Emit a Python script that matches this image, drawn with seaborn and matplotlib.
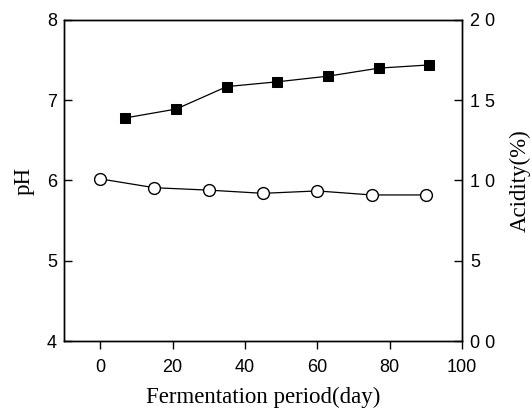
import matplotlib
matplotlib.use("Agg")
import matplotlib.pyplot as plt
import seaborn as sns
import pandas as pd

# data
days_ph = [0, 15, 30, 45, 60, 75, 90]
ph = [6.02, 5.91, 5.88, 5.84, 5.87, 5.82, 5.82]

days_acid = [7, 21, 35, 49, 63, 77, 91]
acidity = [1.39, 1.445, 1.585, 1.615, 1.65, 1.70, 1.72]

x_ticks = [0, 20, 40, 60, 80, 100]
ph_ticks = [4, 5, 6, 7, 8]
acid_ticks = [0.0, 0.5, 1.0, 1.5, 2.0]
acid_labels = ["0 0", "5", "1 0", "1 5", "2 0"]

sns.set_style("ticks")
plt.rcParams["font.family"] = ["Liberation Sans", "DejaVu Sans"]

df_ph = pd.DataFrame({"day": days_ph, "pH": ph})
df_acid = pd.DataFrame({"day": days_acid, "acidity": acidity})

fig = plt.figure(figsize=(5.31, 4.12), dpi=100)
ax = fig.add_axes([0.1205, 0.1723, 0.7495, 0.7792])

sns.lineplot(data=df_ph, x="day", y="pH", ax=ax, color="black", linewidth=0.9,
             marker="o", markersize=8.5, markerfacecolor="white",
             markeredgecolor="black", markeredgewidth=1.0)
ax.set_xlim(-10, 100)
ax.set_ylim(4, 8)
ax.set_xticks(x_ticks)
ax.set_yticks(ph_ticks)
ax.tick_params(axis="x", direction="out", length=6, width=1, labelsize=13,
               pad=7, colors="black")
ax.tick_params(axis="y", direction="in", length=6, width=1, labelsize=13,
               pad=5, colors="black")
ax.set_xlabel("Fermentation period(day)", family="Liberation Serif",
              fontsize=16.5, labelpad=8, color="black")
ax.set_ylabel("pH", family="Liberation Serif", fontsize=16.5, labelpad=9,
              color="black")

ax2 = ax.twinx()
sns.lineplot(data=df_acid, x="day", y="acidity", ax=ax2, color="black", linewidth=0.9,
             marker="s", markersize=7, markerfacecolor="black",
             markeredgecolor="black")
ax2.set_ylim(0, 2.0)
ax2.set_yticks(acid_ticks)
ax2.set_yticklabels(acid_labels)
ax2.tick_params(axis="y", direction="in", length=6, width=1, labelsize=13,
                pad=6, colors="black")
ax2.set_ylabel("Acidity(%)", family="Liberation Serif", fontsize=16.5,
               labelpad=10, color="black")
ax2.set_xlim(-10, 100)

for a in (ax, ax2):
    for s in a.spines.values():
        s.set_linewidth(1.0)
        s.set_color("black")
        s.set_visible(True)

fig.savefig("out.png", dpi=100)
